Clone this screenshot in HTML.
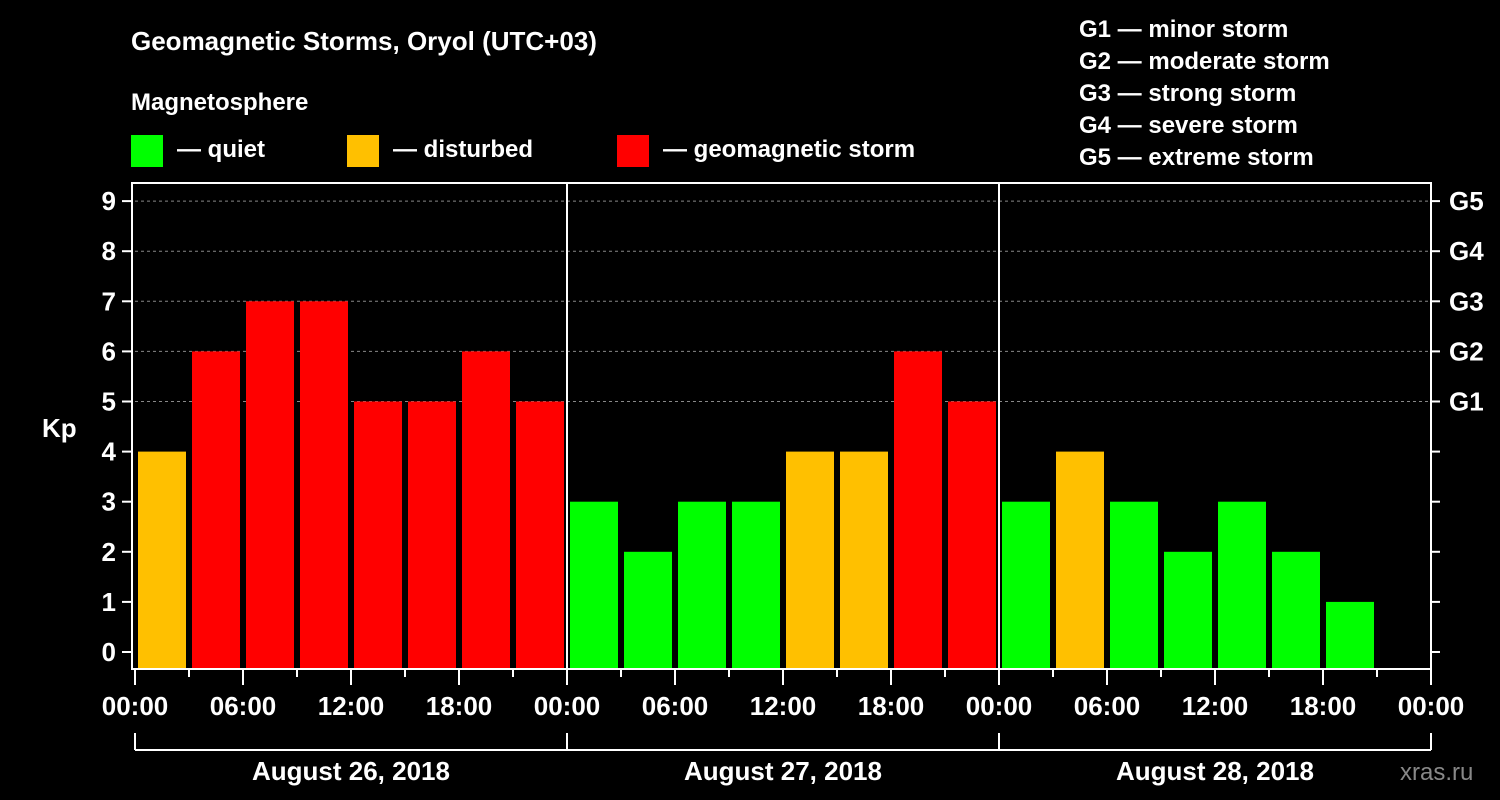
<!DOCTYPE html>
<html><head><meta charset="utf-8"><style>
html,body{margin:0;padding:0;background:#000;}
svg{display:block;font-family:"Liberation Sans",Arial,sans-serif;font-weight:bold;}
</style></head><body>
<svg id="chart" width="1500" height="800" viewBox="0 0 1500 800">
<rect width="1500" height="800" fill="#000"/>
<text x="131" y="50" fill="#fff" font-size="26">Geomagnetic Storms, Oryol (UTC+03)</text>
<text x="131" y="110" fill="#fff" font-size="24">Magnetosphere</text>
<g><rect x="131" y="135" width="32" height="32" fill="#00ff00"/><text x="177" y="157" fill="#fff" font-size="24">— quiet</text></g>
<g><rect x="347" y="135" width="32" height="32" fill="#ffc000"/><text x="393" y="157" fill="#fff" font-size="24">— disturbed</text></g>
<g><rect x="617" y="135" width="32" height="32" fill="#ff0000"/><text x="663" y="157" fill="#fff" font-size="24">— geomagnetic storm</text></g>
<g fill="#fff" font-size="24">
<text x="1079" y="37">G1 — minor storm</text>
<text x="1079" y="69">G2 — moderate storm</text>
<text x="1079" y="101">G3 — strong storm</text>
<text x="1079" y="133">G4 — severe storm</text>
<text x="1079" y="165">G5 — extreme storm</text>
</g>
<g id="grid"></g><g id="bars"></g><g id="axes"></g>
<text x="42" y="437" fill="#fff" font-size="26">Kp</text>
<text x="1400" y="780" fill="#888" font-size="24" font-weight="normal">xras.ru</text>
</svg>
<script>
const kpValues = [4,6,7,7,5,5,6,5, 3,2,3,3,4,4,6,5, 3,4,3,2,3,2,1];
const dayLabels = ["August 26, 2018","August 27, 2018","August 28, 2018"];
const timeLabels = ["00:00","06:00","12:00","18:00"];
const yTicks = [0,1,2,3,4,5,6,7,8,9];
const gLabels = ["G1","G2","G3","G4","G5"];
const NS="http://www.w3.org/2000/svg";
const X0=135, BIN=54, Y0=652, UNIT=50.1, TOP=183, BOT=669, XEND=1431;
const xs=i=>X0+i*BIN, ys=v=>Y0-v*UNIT;
function mk(tag,attrs,parent,txt){const e=document.createElementNS(NS,tag);for(const k in attrs)e.setAttribute(k,attrs[k]);if(txt!==undefined)e.textContent=txt;parent.appendChild(e);return e;}
const grid=document.getElementById('grid'),bars=document.getElementById('bars'),axes=document.getElementById('axes');
yTicks.forEach(v=>{if(v>=5){const l=mk('line',{x1:X0,x2:XEND,y1:ys(v),y2:ys(v),stroke:'#888','stroke-dasharray':'3,3','stroke-width':1},grid);

}});
kpValues.forEach((v,i)=>{const c=v>=5?'#ff0000':v>=4?'#ffc000':'#00ff00';
const r=mk('rect',{x:xs(i)+3,y:ys(v),width:48,height:BOT-ys(v),fill:c},bars);

});
mk('rect',{x:132,y:TOP,width:XEND-132,height:BOT-TOP,fill:'none',stroke:'#fff','stroke-width':2},axes);
[1,2].forEach(d=>{mk('line',{x1:X0+d*432,x2:X0+d*432,y1:TOP,y2:BOT,stroke:'#fff','stroke-width':2},axes);});
yTicks.forEach(v=>{mk('line',{x1:122,x2:132,y1:ys(v),y2:ys(v),stroke:'#fff','stroke-width':2},axes);
mk('line',{x1:XEND,x2:XEND+9,y1:ys(v),y2:ys(v),stroke:'#fff','stroke-width':2},axes);
const t=mk('text',{x:116,y:ys(v)+9,fill:'#fff','font-size':26,'text-anchor':'end'},axes,String(v));

});
gLabels.forEach((g,i)=>{const t=mk('text',{x:1449,y:ys(5+i)+9,fill:'#fff','font-size':26},axes,g);

});
for(let i=0;i<=24;i++){const maj=i%2===0;mk('line',{x1:xs(i),x2:xs(i),y1:BOT,y2:BOT+(maj?16:8),stroke:'#fff','stroke-width':2},axes);
if(maj){const lab=timeLabels[(i/2)%4];const t=mk('text',{x:xs(i),y:715,fill:'#fff','font-size':26,'text-anchor':'middle'},axes,lab);

}}
mk('line',{x1:X0,x2:XEND,y1:750,y2:750,stroke:'#fff','stroke-width':2},axes);
for(let d=0;d<=3;d++)mk('line',{x1:X0+d*432,x2:X0+d*432,y1:733,y2:750,stroke:'#fff','stroke-width':2},axes);
dayLabels.forEach((lab,d)=>{const t=mk('text',{x:X0+d*432+216,y:780,fill:'#fff','font-size':26,'text-anchor':'middle'},axes,lab);

});
</script>
</body></html>
